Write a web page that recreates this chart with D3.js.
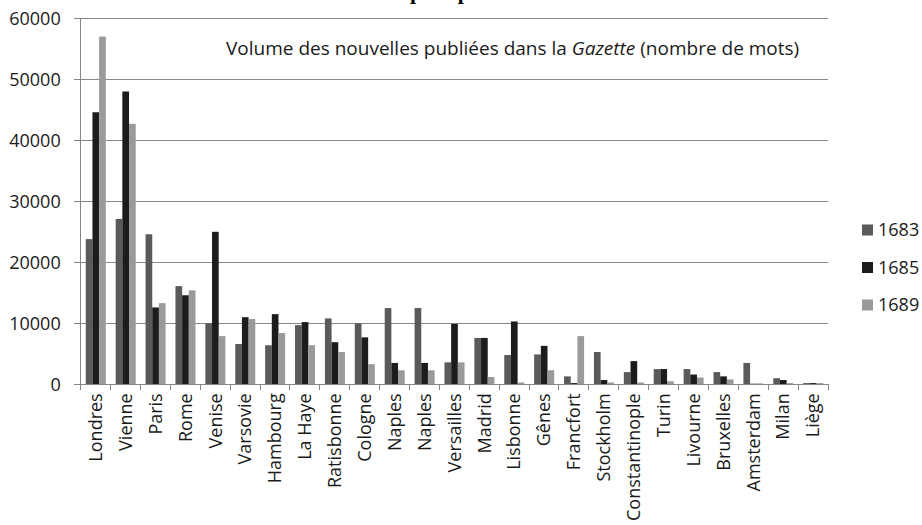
<!DOCTYPE html>
<meta charset="utf-8">
<style>
body { margin: 0; background: #fff; }
svg { display: block; background: #fff; }
.axis text { font: 18px "Open Sans", sans-serif; fill: #1a1a1a; }
.axis line, .axis path { fill: none; stroke: #868686; shape-rendering: crispEdges; }
.grid line { stroke: #878787; shape-rendering: crispEdges; }
.grid path { display: none; }
</style>
<body>
<div id="chart"></div>
<script src="https://d3js.org/d3.v7.min.js"></script>
<script>
var cities = ["Londres", "Vienne", "Paris", "Rome", "Venise", "Varsovie", "Hambourg", "La Haye",
  "Ratisbonne", "Cologne", "Naples", "Naples", "Versailles", "Madrid", "Lisbonne", "Gênes",
  "Francfort", "Stockholm", "Constantinople", "Turin", "Livourne", "Bruxelles", "Amsterdam", "Milan", "Liège"];
var years = ["1683", "1685", "1689"];
var v1683 = [23800, 27100, 24600, 16100, 10000, 6600, 6400, 9700, 10800, 10000, 12500, 12500, 3600,
  7600, 4800, 4900, 1300, 5300, 2000, 2500, 2500, 2000, 3500, 1000, 200];
var v1685 = [44600, 48000, 12600, 14600, 25000, 11000, 11500, 10200, 6900, 7700, 3500, 3500, 9900,
  7600, 10300, 6300, 200, 700, 3800, 2500, 1600, 1300, 100, 700, 200];
var v1689 = [57000, 42700, 13300, 15400, 7900, 10700, 8400, 6400, 5300, 3300, 2300, 2300, 3600,
  1200, 300, 2300, 7900, 300, 300, 500, 1100, 800, 150, 200, 200];
var yTicks = [0, 10000, 20000, 30000, 40000, 50000, 60000];
var colors = ["#5a5a5a", "#1c1c1c", "#9a9a9a"];
var chartTitle = "Volume des nouvelles publiées dans la ";
var chartTitleItalic = "Gazette";
var chartTitleEnd = " (nombre de mots)";

var series = [v1683, v1685, v1689];
var data = cities.map(function(c, i) {
  return { key: i, city: c, values: series.map(function(s) { return s[i]; }) };
});

var W = 922, H = 525,
    margin = {top: 18.3, left: 80.7, right: 94, bottom: 140.7},
    width = W - margin.left - margin.right,
    height = H - margin.top - margin.bottom;

var svgRoot = d3.select("#chart").append("svg").attr("width", W).attr("height", H);

// page title, cut off by the top edge as in the scan
svgRoot.append("text")
  .attr("x", 440).attr("y", -1)
  .attr("text-anchor", "middle")
  .style("font", "bold 22px 'Liberation Serif', serif")
  .style("word-spacing", "30px")
  .text("p p");

var svg = svgRoot.append("g").attr("transform", "translate(" + margin.left + "," + margin.top + ")");

var x0 = d3.scaleBand().domain(d3.range(cities.length)).range([0, width]).paddingInner(0).paddingOuter(0);
var x1 = d3.scaleBand().domain(years).range([x0.bandwidth() * 0.17, x0.bandwidth() * 0.84]);
var y = d3.scaleLinear().domain([0, 60000]).range([height, 0]);

svg.append("g").attr("class", "grid")
  .call(d3.axisLeft(y).tickValues(yTicks.slice(1)).tickSize(-width).tickFormat(""));

var group = svg.selectAll(".city").data(data).enter().append("g")
  .attr("transform", function(d) { return "translate(" + x0(d.key) + ",0)"; });
group.selectAll("rect").data(function(d) { return d.values; }).enter().append("rect")
  .attr("x", function(d, i) { return x1(years[i]); })
  .attr("width", x1.bandwidth())
  .attr("y", function(d) { return y(d); })
  .attr("height", function(d) { return height - y(d); })
  .attr("fill", function(d, i) { return colors[i]; });

var yAxis = svg.append("g").attr("class", "axis")
  .call(d3.axisLeft(y).tickValues(yTicks).tickSize(7).tickPadding(13).tickFormat(d3.format("d")));
yAxis.select(".domain").attr("d", "M0," + height + "V0");

var xAxis = svg.append("g").attr("class", "axis").attr("transform", "translate(0," + height + ")");
xAxis.append("path").attr("d", "M0,0H" + width).attr("stroke", "#868686").attr("fill", "none");
xAxis.selectAll(".tk").data(d3.range(cities.length + 1)).enter().append("line")
  .attr("x1", function(d) { return d * x0.step(); }).attr("x2", function(d) { return d * x0.step(); })
  .attr("y1", 0).attr("y2", 6);
xAxis.selectAll(".lbl").data(data).enter().append("text")
  .attr("transform", function(d) { return "translate(" + (x0(d.key) + x0.bandwidth() / 2) + ",9) rotate(-90)"; })
  .attr("dy", "0.35em")
  .style("text-anchor", "end")
  .text(function(d) { return d.city; });

var title = svg.append("text")
  .attr("x", 226 - margin.left).attr("y", 55 - margin.top)
  .style("font", "19px 'Open Sans', sans-serif").style("fill", "#1a1a1a");
title.append("tspan").text(chartTitle);
title.append("tspan").style("font-style", "italic").text(chartTitleItalic);
title.append("tspan").text(chartTitleEnd);

var legend = svgRoot.selectAll(".leg").data(years).enter().append("g")
  .attr("transform", function(d, i) { return "translate(862," + (230 + i * 37.5) + ")"; });
legend.append("rect").attr("x", 0).attr("y", -5.5).attr("width", 11).attr("height", 11)
  .attr("fill", function(d, i) { return colors[i]; });
legend.append("text").attr("x", 16).attr("dy", "0.35em")
  .style("font", "18px 'Open Sans', sans-serif").style("fill", "#1a1a1a")
  .text(function(d) { return d; });
</script>
</body>
